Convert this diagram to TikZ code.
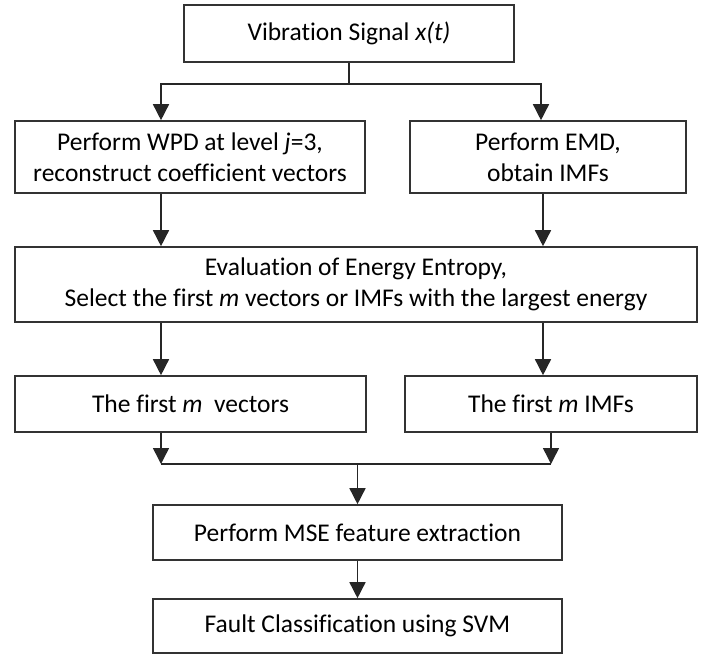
\documentclass[tikz,border=0pt]{standalone}
\usepackage{fontspec}
\setmainfont[Ligatures=NoCommon]{Carlito}
\usetikzlibrary{arrows.meta,positioning}

\begin{document}
\begin{tikzpicture}[x=1pt,y=-1pt,
    box/.style={draw=black!80,line width=1.6pt,inner sep=0pt,align=center,
      font=\fontsize{25.5}{31}\selectfont},
    arr/.style={draw=black!85,line width=1.5pt,-{Triangle[length=16pt,width=16pt]}},
    ln/.style={draw=black!85,line width=1.5pt}]
    \useasboundingbox (0,0) rectangle (713,656);

    % columns and junctions
    \coordinate (colL) at (161,0);
    \coordinate (colR) at (543,0);
    \coordinate (splitL) at (161,84);
    \coordinate (splitR) at (541,84);
    \coordinate (mergeL) at (161,464);
    \coordinate (mergeR) at (551,464);

    % boxes
    \node[box,minimum width=330pt,minimum height=57pt] (sig) at (349,33.5) {Vibration Signal \textit{x(t)}};
    \node[box,minimum width=350pt,minimum height=72pt] (wpd) at (190,157) {Perform WPD at level \textit{j}=3,\\reconstruct coefficient vectors};
    \node[box,minimum width=276pt,minimum height=72pt] (emd) at (548,157) {Perform EMD,\\obtain IMFs};
    \node[box,minimum width=682pt,minimum height=75pt] (ent) at (356,284.5) {Evaluation of Energy Entropy,\\Select the first \textit{m} vectors or IMFs with the largest energy};
    \node[box,minimum width=351pt,minimum height=56pt] (vec) at (190.5,404) {The first \textit{m}\ \ vectors};
    \node[box,minimum width=292pt,minimum height=56pt] (imf) at (551,404) {The first \textit{m} IMFs};
    \node[box,minimum width=409pt,minimum height=55pt] (mse) at (357.5,532.5) {Perform MSE feature extraction};
    \node[box,minimum width=409pt,minimum height=54pt] (svm) at (357.5,626) {Fault Classification using SVM};

    % split
    \draw[arr] (sig.south) |- (splitL) -- (wpd.north -| splitL);
    \draw[arr] (sig.south |- splitR) -- (splitR) -- (emd.north -| splitR);

    % down the columns
    \draw[arr] (wpd.south -| colL) -- (ent.north -| colL);
    \draw[arr] (emd.south -| colR) -- (ent.north -| colR);
    \draw[arr] (ent.south -| colL) -- (vec.north -| colL);
    \draw[arr] (ent.south -| colR) -- (imf.north -| colR);

    % merge
    \draw[arr] (vec.south -| mergeL) -- (mergeL);
    \draw[arr] (imf.south -| mergeR) -- (mergeR);
    \draw[ln] (mergeL) -- (mergeR);
    \draw[arr] (mse.north |- mergeL) -- (mse.north);
    \draw[arr] (mse.south) -- (svm.north);
\end{tikzpicture}
\end{document}
